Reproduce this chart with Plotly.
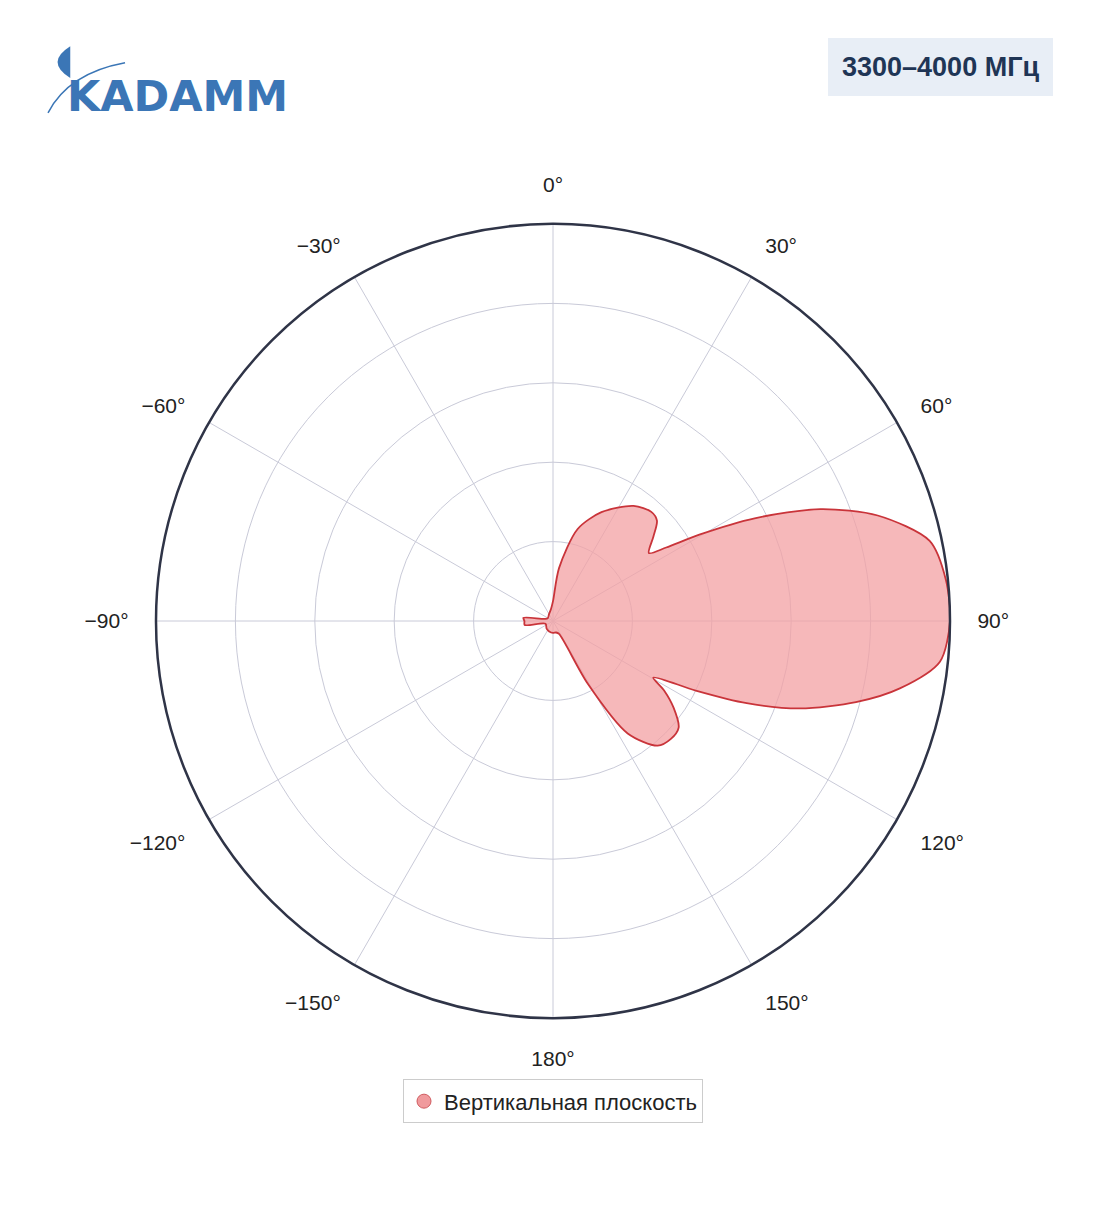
import plotly.graph_objects as go

# vertical-plane pattern, angle in degrees (clockwise from top), normalised level
theta = [0, 6.5, 15, 24, 35, 42, 46, 50, 54.7, 57, 59.5, 63, 67.3, 72, 78, 84, 90,
         96, 101, 105, 109.5, 113, 116, 119.4, 122, 125.7, 130.3, 135, 140, 146.4, 151, 155,
         165, 180, 200, 220, 250, 262, 270, 276, 285, 300, 330, 350, 360]
r = [0.05, 0.134, 0.24, 0.30, 0.354, 0.37, 0.364, 0.33, 0.296, 0.34, 0.43, 0.57, 0.73, 0.86, 0.97, 0.995, 1.0,
     0.98, 0.89, 0.79, 0.66, 0.53, 0.40, 0.29, 0.33, 0.374, 0.415, 0.42, 0.41, 0.34, 0.18, 0.036,
     0.03, 0.03, 0.028, 0.025, 0.02, 0.072, 0.072, 0.075, 0.02, 0.015, 0.02, 0.03, 0.05]

tick_vals = [0, 30, 60, 90, 120, 150, 180, 210, 240, 270, 300, 330]
tick_text = ['0°', '30°', '60°', '90°', '120°', '150°', '180°',
             '−150°', '−120°', '−90°', '−60°', '−30°']

fig = go.Figure()
fig.add_trace(go.Scatterpolar(
    r=r, theta=theta, mode='lines', fill='toself',
    fillcolor='rgba(243,160,163,0.75)', line=dict(color='#c9343a', width=1.8, shape='spline', smoothing=0.8),
    showlegend=False, hoverinfo='skip'))
fig.add_trace(go.Scatterpolar(
    r=[None], theta=[None], mode='markers', name='Вертикальная плоскость',
    marker=dict(size=14, color='#f09a9d', line=dict(color='#d05c60', width=1))))

fig.update_layout(
    width=1104, height=1211,
    margin=dict(l=148, r=162, t=216, b=201),
    paper_bgcolor='white',
    font=dict(family='Liberation Sans, Arial', size=21, color='#222'),
    polar=dict(
        bgcolor='white',
        radialaxis=dict(range=[0, 1], tickvals=[0.2, 0.4, 0.6, 0.8, 1.0], showticklabels=False,
                        ticks='', gridcolor='#c9cad8', gridwidth=1.2, showline=False),
        angularaxis=dict(rotation=90, direction='clockwise', tickvals=tick_vals, ticktext=tick_text,
                         gridcolor='#c9cad8', gridwidth=1.2, linecolor='#2f3447', linewidth=2.5,
                         ticks='outside', ticklen=22, tickcolor='rgba(0,0,0,0)',
                         tickfont=dict(size=21, color='#222')),
    ),
    legend=dict(orientation='h', x=0.5, xanchor='center', y=-0.105, yanchor='middle',
                bordercolor='#cccccc', borderwidth=1, font=dict(size=22, color='#222')),
    annotations=[
        dict(text='<b>3300–4000 МГц</b>', xref='paper', yref='paper', x=0.988, y=1.198,
             xanchor='center', yanchor='middle', showarrow=False, font=dict(size=27, color='#1f3555'),
             bgcolor='#e8eef6', borderpad=13, bordercolor='#e8eef6'),
        dict(text='<b>KADAMM</b>', xref='paper', yref='paper', x=-0.115, y=1.161,
             xanchor='left', yanchor='middle', showarrow=False,
             font=dict(size=43, color='#3b76b6', family='DejaVu Sans'))
    ],
    shapes=[
        dict(type='path', xref='paper', yref='paper',
             path='M -0.108 1.224 L -0.108 1.184 Q -0.14 1.204 -0.108 1.224 Z',
             fillcolor='#3b76b6', line=dict(width=0)),
        dict(type='path', xref='paper', yref='paper',
             path='M -0.136 1.140 Q -0.11 1.19 -0.039 1.203',
             line=dict(color='#3b76b6', width=1.5)),
    ],
)

fig.write_html("out.html")
